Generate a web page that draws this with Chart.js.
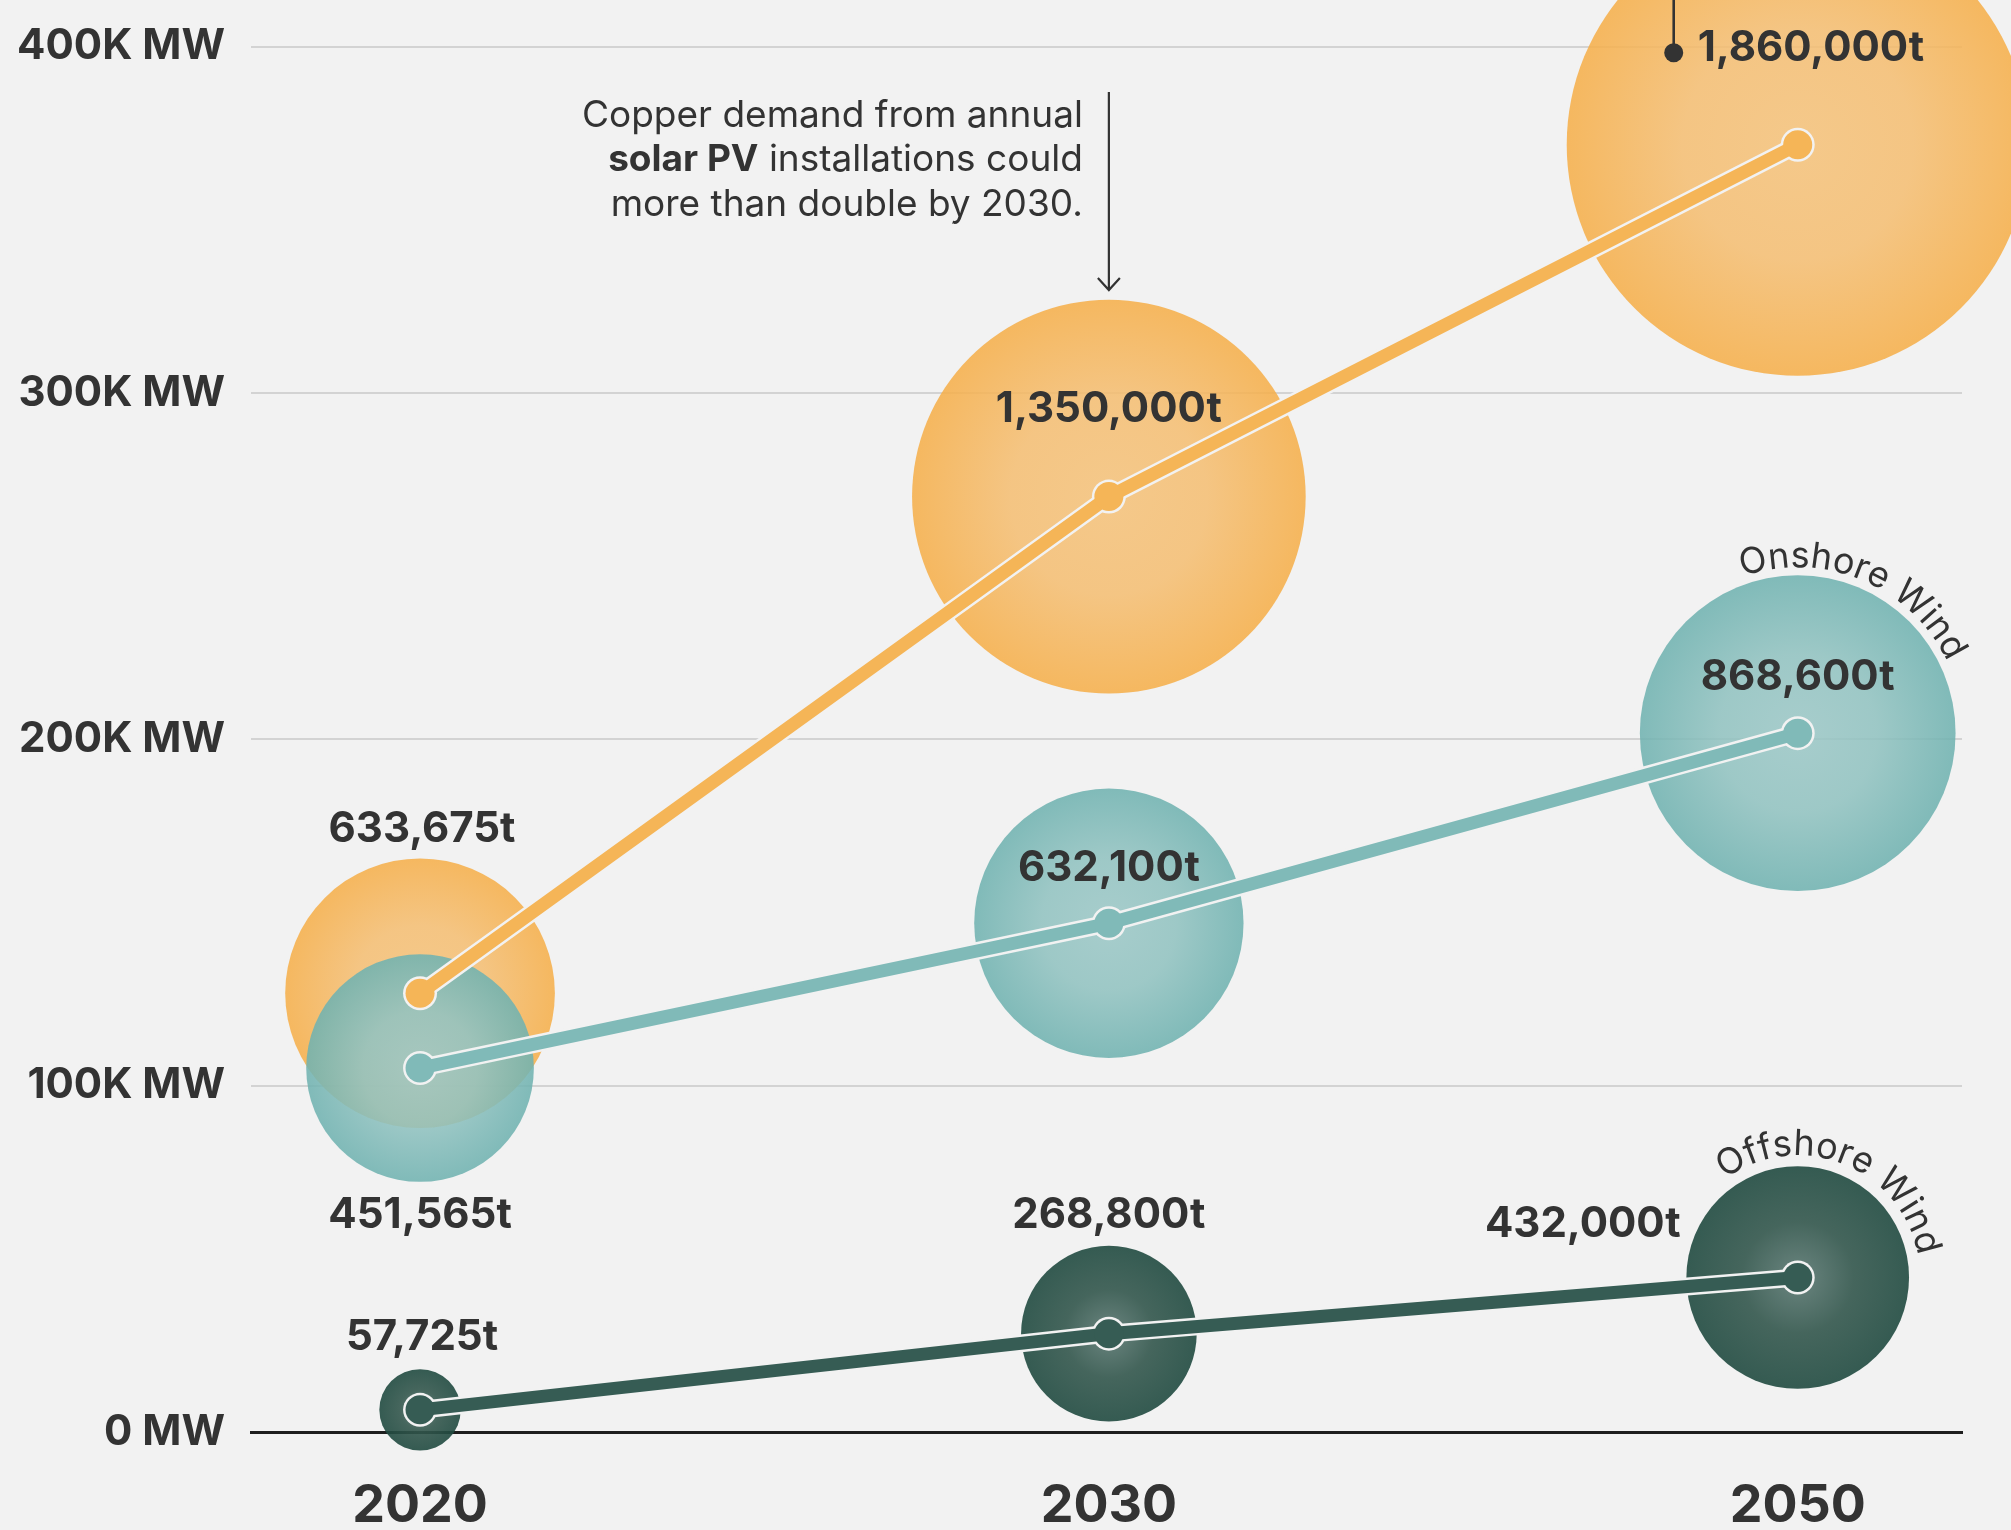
<!DOCTYPE html>
<html>
<head>
<meta charset="utf-8">
<title>Copper demand by technology</title>
<script src="https://cdn.jsdelivr.net/npm/chart.js@4.4.1/dist/chart.umd.min.js"></script>
<style>
  html, body { margin: 0; padding: 0; background: #f2f2f2; }
  #wrap { position: relative; width: 2011px; height: 1530px; }
</style>
</head>
<body>
<div id="wrap"><canvas id="copperChart"></canvas></div>
<script>
// Years on the x axis (drawn evenly spaced, as in the original)
const years = ['2020', '2030', '2050'];

// Annual installations, MW (vertical position of each point)
const solarMW    = [126700, 270100, 371700];
const onshoreMW  = [105100, 146900, 201800];
const offshoreMW = [6400, 28400, 44600];

// Copper demand, tonnes (bubble area and labels)
const solarTonnes    = [633675, 1350000, 1860000];
const onshoreTonnes  = [451565, 632100, 868600];
const offshoreTonnes = [57725, 268800, 432000];

const yTicks = [0, 100000, 200000, 300000, 400000];

// ---- styling ----
const BG = '#f2f2f2';
const TEXT = '#333333';
const FONT = 'Inter, "Open Sans", sans-serif';
const LABEL_SIZE = 42;
const BUBBLE_SCALE = 231 / Math.sqrt(1860000); // px of radius per sqrt(tonne)

const series = [
    {
        key: 'solar', mw: solarMW, tonnes: solarTonnes, line: '#f5b557',
        stops: [[0, 'rgba(244,194,123,0.88)'], [0.5, 'rgba(244,190,115,0.88)'], [1, 'rgba(245,175,75,0.88)']]
    },
    {
        key: 'onshore', mw: onshoreMW, tonnes: onshoreTonnes, line: '#80bab8',
        stops: [[0, 'rgba(156,199,198,0.88)'], [0.5, 'rgba(145,194,192,0.88)'], [1, 'rgba(112,178,176,0.88)']]
    },
    {
        key: 'offshore', mw: offshoreMW, tonnes: offshoreTonnes, line: '#365c54',
        stops: [[0, 'rgba(92,121,115,0.9)'], [0.5, 'rgba(50,86,76,0.9)'], [1, 'rgba(32,74,64,0.9)']]
    }
];

// where each tonnage label sits, relative to its point (pixels)
const labelPlacement = {
    solar:    [{dx: 2, dy: -166}, {dx: 0, dy: -90}, {dx: -100, dy: -99, align: 'left', pin: {dx: -124, dy: -92}}],
    onshore:  [{dx: 0, dy: 145}, {dx: 0, dy: -57}, {dx: 0, dy: -58}],
    offshore: [{dx: 2, dy: -75}, {dx: 0, dy: -121}, {dx: -117, dy: -56, align: 'right'}]
};

// curved series names around the 2050 bubbles
const arcNames = [
    {key: 'onshore', text: 'Onshore Wind', index: 2, gap: 8, angle: 22.5},
    {key: 'offshore', text: 'Offshore Wind', index: 2, gap: 11, angle: 21}
];

function radiusFor(t) {
    return BUBBLE_SCALE * Math.sqrt(t);
}

function toPoints(mw) {
    return mw.map((v, i) => ({x: i, y: v}));
}

function toBubbles(mw, tonnes) {
    return mw.map((v, i) => ({x: i, y: v, r: radiusFor(tonnes[i])}));
}

function bubbleFill(stops) {
    return function(context) {
        const chart = context.chart;
        if (context.type !== 'data' || !chart.chartArea) {
            return stops[stops.length - 1][1];
        }
        const cx = chart.scales.x.getPixelForValue(context.raw.x);
        const cy = chart.scales.y.getPixelForValue(context.raw.y);
        const g = chart.ctx.createRadialGradient(cx, cy, 0, cx, cy, context.raw.r);
        stops.forEach(s => g.addColorStop(s[0], s[1]));
        return g;
    };
}

const datasets = [];
series.forEach(s => {
    datasets.push({
        type: 'bubble',
        label: s.key + ' copper',
        data: toBubbles(s.mw, s.tonnes),
        backgroundColor: bubbleFill(s.stops),
        borderWidth: 0,
        hoverRadius: 0,
        clip: false,
        order: s.key === 'onshore' ? 2 : 3
    });
    // pale casing under the line
    datasets.push({
        type: 'line',
        label: s.key + ' casing',
        data: toPoints(s.mw),
        borderColor: BG,
        borderWidth: 18,
        pointRadius: 17,
        pointHoverRadius: 17,
        pointBackgroundColor: BG,
        pointBorderWidth: 0,
        tension: 0,
        clip: false,
        order: 1
    });
    datasets.push({
        type: 'line',
        label: s.key + ' MW',
        data: toPoints(s.mw),
        borderColor: s.line,
        borderWidth: 13,
        pointRadius: 14.5,
        pointHoverRadius: 14.5,
        pointBackgroundColor: s.line,
        pointBorderWidth: 0,
        tension: 0,
        clip: false,
        order: 0
    });
});

function drawArcText(ctx, text, cx, cy, radius, centerDeg) {
    const total = ctx.measureText(text).width;
    let a = centerDeg * Math.PI / 180 - total / radius / 2;
    for (const ch of text) {
        const w = ctx.measureText(ch).width;
        const mid = a + (w / 2) / radius;
        ctx.save();
        ctx.translate(cx + radius * Math.sin(mid), cy - radius * Math.cos(mid));
        ctx.rotate(mid);
        ctx.fillText(ch, 0, 0);
        ctx.restore();
        a += w / radius;
    }
}

const annotationPlugin = {
    id: 'copperAnnotations',
    afterDatasetsDraw(chart) {
        const {ctx, scales: {x, y}} = chart;
        ctx.save();
        ctx.fillStyle = TEXT;
        ctx.strokeStyle = TEXT;
        ctx.textBaseline = 'alphabetic';

        // tonnage labels
        ctx.font = `700 ${LABEL_SIZE}px ${FONT}`;
        series.forEach(s => {
            s.tonnes.forEach((t, i) => {
                const px = x.getPixelForValue(i);
                const py = y.getPixelForValue(s.mw[i]);
                const p = labelPlacement[s.key][i];
                ctx.textAlign = p.align || 'center';
                ctx.fillText(t.toLocaleString('en-US') + 't', px + p.dx, py + p.dy + LABEL_SIZE * 0.36);
                if (p.pin) {
                    const dx = px + p.pin.dx, dy = py + p.pin.dy;
                    ctx.lineWidth = 2.6;
                    ctx.beginPath();
                    ctx.moveTo(dx, 0);
                    ctx.lineTo(dx, dy);
                    ctx.stroke();
                    ctx.beginPath();
                    ctx.arc(dx, dy, 9.5, 0, Math.PI * 2);
                    ctx.fill();
                }
            });
        });

        // curved series names
        ctx.font = `400 36px ${FONT}`;
        ctx.textAlign = 'center';
        arcNames.forEach(n => {
            const s = series.find(q => q.key === n.key);
            const cx = x.getPixelForValue(n.index);
            const cy = y.getPixelForValue(s.mw[n.index]);
            drawArcText(ctx, n.text, cx, cy, radiusFor(s.tonnes[n.index]) + n.gap, n.angle);
        });

        // note with arrow pointing at the 2030 solar bubble
        const ax = x.getPixelForValue(1);
        ctx.lineWidth = 2.2;
        ctx.beginPath();
        ctx.moveTo(ax, 92);
        ctx.lineTo(ax, 290);
        ctx.moveTo(ax - 11, 278);
        ctx.lineTo(ax, 290);
        ctx.lineTo(ax + 11, 278);
        ctx.stroke();

        const right = ax - 26;
        const regular = `400 37px ${FONT}`;
        const bold = `700 37px ${FONT}`;
        ctx.textAlign = 'right';
        ctx.font = regular;
        ctx.fillText('Copper demand from annual', right, 127);
        const rest = ' installations could';
        const restW = ctx.measureText(rest).width;
        ctx.fillText(rest, right, 171);
        ctx.font = bold;
        ctx.fillText('solar PV', right - restW, 171);
        ctx.font = regular;
        ctx.fillText('more than double by 2030.', right, 216);

        ctx.restore();
    }
};

const ctx = document.getElementById('copperChart').getContext('2d');
new Chart(ctx, {
    type: 'bubble',
    data: { datasets: datasets },
    options: {
        responsive: true,
        maintainAspectRatio: false,
        animation: false,
        events: [],
        layout: { autoPadding: false, padding: { top: 0, right: 49, bottom: 0, left: 0 } },
        plugins: {
            legend: { display: false },
            tooltip: { enabled: false }
        },
        scales: {
            x: {
                type: 'linear',
                min: -0.2454,
                max: 2.2385,
                afterBuildTicks: scale => { scale.ticks = years.map((_, i) => ({value: i})); },
                afterFit: scale => { scale.height = 98; scale.paddingLeft = 0; scale.paddingRight = 0; },
                grid: { display: true, color: 'rgba(0,0,0,0)', drawTicks: false },
                border: { display: true, color: '#1e1e1e', width: 3 },
                ticks: {
                    padding: 43,
                    color: TEXT,
                    font: { family: FONT, size: 52, weight: '700' },
                    callback: v => years[v]
                }
            },
            y: {
                type: 'linear',
                min: 0,
                max: 413500,
                afterBuildTicks: scale => { scale.ticks = yTicks.map(v => ({value: v})); },
                afterFit: scale => { scale.width = 251; scale.paddingTop = 0; scale.paddingBottom = 0; },
                grid: { color: '#d3d3d3', lineWidth: 2, drawTicks: false },
                border: { display: false },
                ticks: {
                    padding: 26,
                    color: TEXT,
                    font: { family: FONT, size: 42, weight: '700' },
                    callback: v => v === 0 ? '0 MW' : (v / 1000) + 'K MW'
                }
            }
        }
    },
    plugins: [annotationPlugin]
});
</script>
</body>
</html>
